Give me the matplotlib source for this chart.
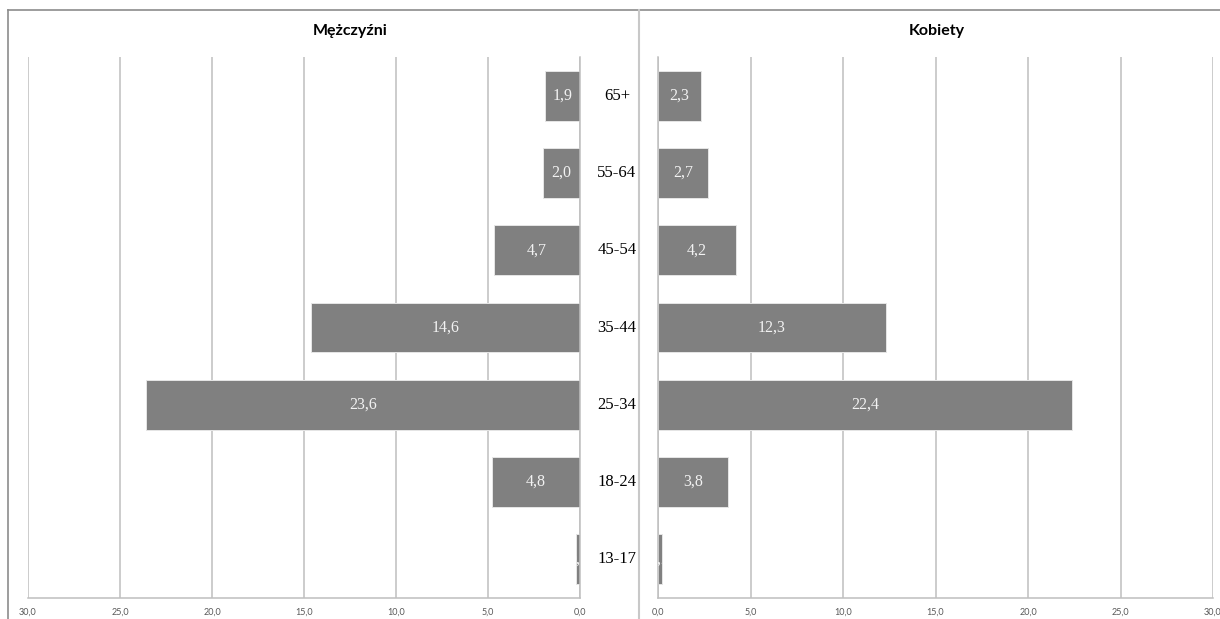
import matplotlib.pyplot as plt
from matplotlib.lines import Line2D
from matplotlib.transforms import blended_transform_factory

# age groups, bottom to top
ages = ['13-17', '18-24', '25-34', '35-44', '45-54', '55-64', '65+']
men = [0.2, 4.8, 23.6, 14.6, 4.7, 2.0, 1.9]
women = [0.2, 3.8, 22.4, 12.3, 4.2, 2.7, 2.3]
ticks = [0, 5, 10, 15, 20, 25, 30]

BAR = '#808080'
GRID = '#bfbfbf'
W, H = 1220, 619


def fmt(v):
    return f"{v:.1f}".replace('.', ',')


def setup(ax, reverse):
    ax.set_ylim(-0.5, len(ages) - 0.5)
    ax.set_xlim((30, 0) if reverse else (0, 30))
    ax.set_xticks(ticks)
    ax.set_xticklabels([fmt(t) for t in ticks], fontsize=6.5,
                       color='#595959', family='Lato')
    ax.tick_params(axis='x', length=0, pad=7)
    ax.set_yticks([])
    ax.grid(axis='x', color=GRID, linewidth=1.1)
    ax.set_axisbelow(True)
    for s in ax.spines.values():
        s.set_visible(False)
    ax.spines['bottom'].set_visible(True)
    ax.spines['bottom'].set_color(GRID)
    ax.spines['bottom'].set_linewidth(1.1)
    zero = 'right' if reverse else 'left'
    ax.spines[zero].set_visible(True)
    ax.spines[zero].set_color(GRID)
    ax.spines[zero].set_linewidth(1.1)


def draw(ax, values):
    bars = ax.barh(range(len(ages)), values, height=0.645, color=BAR,
                   edgecolor='#e6e6e6', linewidth=0.7)
    for bar, v in zip(bars, values):
        # labels are cut to the bar, as in the original
        t = ax.text(v / 2, bar.get_y() + bar.get_height() / 2, fmt(v),
                    ha='center', va='center', color='#f2f2f2',
                    fontsize=11.5, family='Liberation Serif', clip_on=True)
        t.set_clip_path(bar)


fig = plt.figure(figsize=(W / 100, H / 100), dpi=100)

ax_m = fig.add_axes([28 / W, 1 - 598 / H, 552 / W, 541 / H])
ax_k = fig.add_axes([658 / W, 1 - 598 / H, 555 / W, 541 / H])

setup(ax_m, True)
setup(ax_k, False)
draw(ax_m, men)
draw(ax_k, women)

# age group labels between the two panels
tr = blended_transform_factory(fig.transFigure, ax_m.transData)
for i, a in enumerate(ages):
    fig.text(617 / W, i, a, transform=tr, ha='center', va='center',
             fontsize=12, family='Liberation Serif', color='black')

fig.text(350 / W, 1 - 31 / H, 'Mężczyźni', ha='center', va='center',
         fontsize=11.5, fontweight='bold', family='Lato')
fig.text(937 / W, 1 - 31 / H, 'Kobiety', ha='center', va='center',
         fontsize=11.5, fontweight='bold', family='Lato')

# chart frames
fig.add_artist(Line2D([8 / W, 1], [1 - 10 / H, 1 - 10 / H],
                      transform=fig.transFigure, color='#8c8c8c', lw=1.2))
fig.add_artist(Line2D([8 / W, 8 / W], [0, 1 - 10 / H],
                      transform=fig.transFigure, color='#8c8c8c', lw=1.2))
fig.add_artist(Line2D([639 / W, 639 / W], [0, 1 - 10 / H],
                      transform=fig.transFigure, color='#c8c8c8', lw=1.5))

fig.savefig('out.png', dpi=100)
